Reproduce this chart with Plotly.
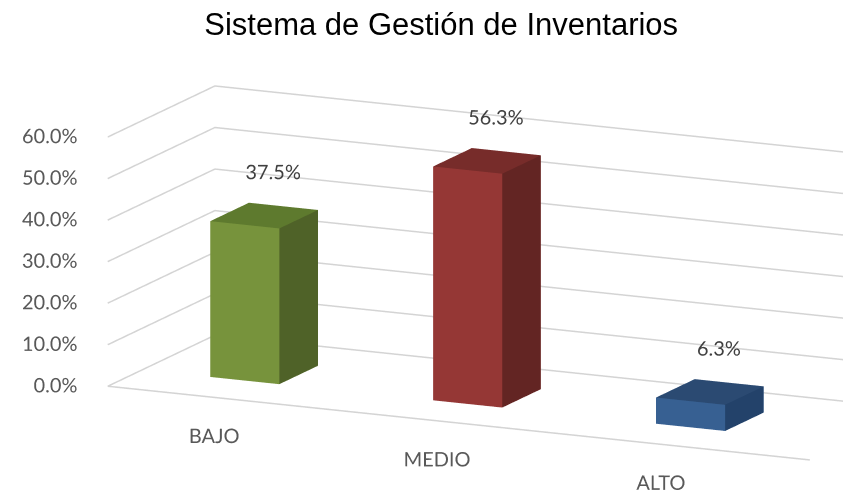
import numpy as np
import plotly.graph_objects as go

categories = ["BAJO", "MEDIO", "ALTO"]
values = [37.5, 56.3, 6.3]
value_labels = ["37.5%", "56.3%", "6.3%"]
tick_values = [0, 10, 20, 30, 40, 50, 60]
tick_labels = ["0.0%", "10.0%", "20.0%", "30.0%", "40.0%", "50.0%", "60.0%"]

front_colors = ["#77933C", "#953735", "#376092"]
side_colors = ["#4F6228", "#632523", "#23426A"]
top_colors = ["#5E7A2E", "#772C2A", "#2B4A72"]

# scene geometry (category units / percent)
floor_x = [0.04, 3.19]
depth = 1.024
bar_w = 0.31
bar_y = [0.33, 0.70]
xr = [-0.15, 3.40]
yr = [-1.55, depth]
zr = [-15, 100.2]
z_unit = 0.01731  # height of one percent in category units
s = 0.979  # zoom (orthographic scale comes from aspectratio)


def box(x0, x1, y0, y1, z0, z1):
    xs = [x0, x1, x1, x0, x0, x1, x1, x0]
    ys = [y0, y0, y1, y1, y0, y0, y1, y1]
    zs = [z0, z0, z0, z0, z1, z1, z1, z1]
    # front(y0), right(x1), top(z1), back, left, bottom
    tri = [(0, 1, 5), (0, 5, 4),
           (1, 2, 6), (1, 6, 5),
           (4, 5, 6), (4, 6, 7),
           (3, 2, 6), (3, 6, 7),
           (0, 3, 7), (0, 7, 4),
           (0, 1, 2), (0, 2, 3)]
    i, j, k = zip(*tri)
    return xs, ys, zs, i, j, k


fig = go.Figure()

# gridlines on left and back walls + floor front edge
x0, x1 = floor_x
gx, gy, gz = [], [], []
for t in tick_values:
    gx += [x0, x0, x1, None]
    gy += [0, depth, depth, None]
    gz += [t, t, t, None]
gx += [x0, x1]
gy += [0, 0]
gz += [0, 0]
fig.add_trace(go.Scatter3d(x=gx, y=gy, z=gz, mode="lines",
                           line=dict(color="#d4d4d4", width=3),
                           hoverinfo="skip", showlegend=False))

# bars
for n, v in enumerate(values):
    xc = n + 0.5
    xs, ys, zs, i, j, k = box(xc - bar_w / 2, xc + bar_w / 2, bar_y[0], bar_y[1], 0, v)
    fc = [front_colors[n]] * 2 + [side_colors[n]] * 2 + [top_colors[n]] * 2 + [front_colors[n]] * 6
    fig.add_trace(go.Mesh3d(x=xs, y=ys, z=zs, i=i, j=j, k=k, facecolor=fc,
                            flatshading=True,
                            lighting=dict(ambient=1, diffuse=0, specular=0, fresnel=0, roughness=1),
                            hoverinfo="skip", showscale=False))

# value labels
fig.add_trace(go.Scatter3d(
    x=[n + 0.5 for n in range(len(values))],
    y=[0.60] * len(values),
    z=[v + 9.5 for v in values],
    mode="text", text=value_labels, textposition="middle center",
    textfont=dict(family="Lato", size=20, color="#404040"),
    hoverinfo="skip", showlegend=False))

# tick labels
fig.add_trace(go.Scatter3d(
    x=[-0.01] * len(tick_values), y=[0] * len(tick_values), z=tick_values,
    mode="text", text=tick_labels, textposition="middle left",
    textfont=dict(family="Lato", size=20, color="#595959"),
    hoverinfo="skip", showlegend=False))

# category labels
fig.add_trace(go.Scatter3d(
    x=[n + 0.5 for n in range(len(categories))], y=[0.04] * len(categories),
    z=[-9.8] * len(categories),
    mode="text", text=categories, textposition="middle center",
    textfont=dict(family="Lato", size=20, color="#595959"),
    hoverinfo="skip", showlegend=False))

ax = dict(visible=False, showspikes=False)
eye_dir = np.array([0.414, -0.882, 0.2236])
eye = eye_dir / np.linalg.norm(eye_dir) * 2.0
fig.update_layout(
    width=851, height=503,
    margin=dict(l=0, r=0, t=0, b=0),
    paper_bgcolor="white",
    showlegend=False,
    title=dict(text="Sistema de Gestión de Inventarios", x=0.509, y=0.968,
               xanchor="center", yanchor="middle",
               font=dict(family="Liberation Sans", size=31, color="#000000")),
    scene=dict(
        domain=dict(x=[0, 1], y=[0, 1]),
        xaxis=dict(range=xr, **ax),
        yaxis=dict(range=yr, **ax),
        zaxis=dict(range=zr, **ax),
        aspectmode="manual",
        aspectratio=dict(x=(xr[1] - xr[0]) * s, y=(yr[1] - yr[0]) * s,
                         z=(zr[1] - zr[0]) * z_unit * s),
        camera=dict(eye=dict(x=eye[0], y=eye[1], z=eye[2]),
                    center=dict(x=0, y=0, z=0),
                    up=dict(x=0, y=0, z=1),
                    projection=dict(type="orthographic")),
        dragmode=False,
    ),
)

fig.write_html("out.html")
